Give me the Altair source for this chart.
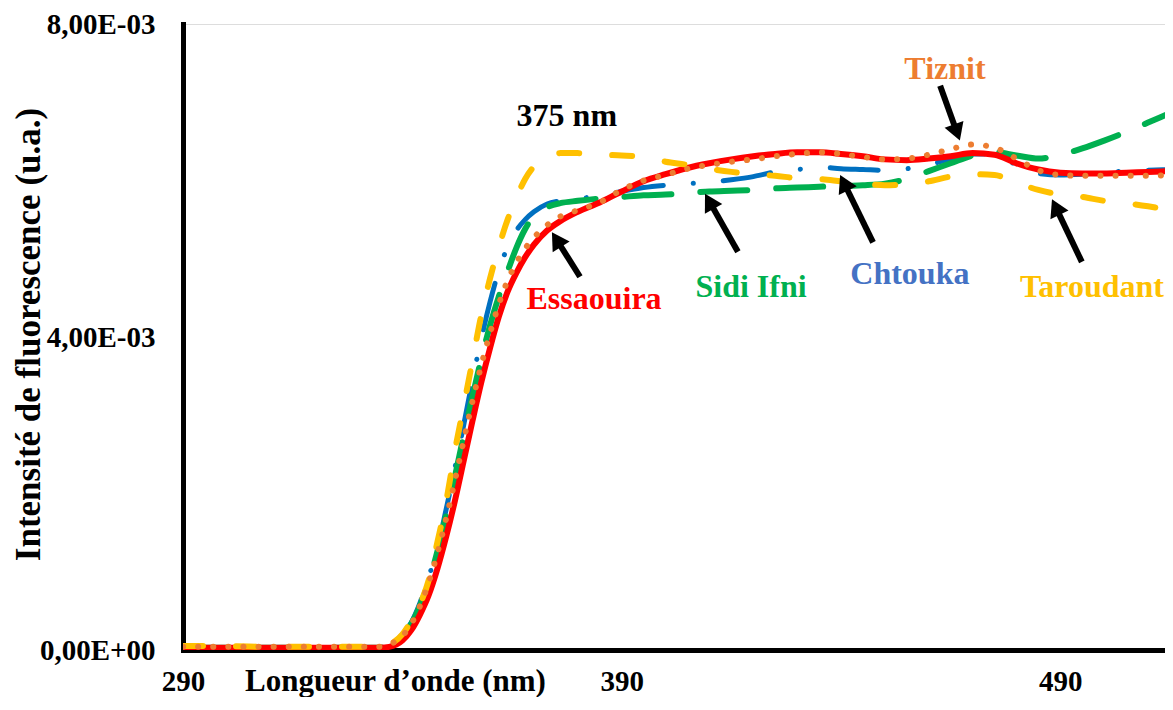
import math
import altair as alt
import pandas as pd

# ---------------- data (intensities in units of 1e-3 u.a.) ----------------
wavelength = [290, 300, 310, 320, 330, 335, 337,
              340, 342, 344, 346, 348, 350, 352, 354, 356, 358, 360, 362, 364, 366, 368, 370,
              373, 376,
              380, 385, 390, 395, 400, 405, 410, 415, 420, 425, 430, 435, 440, 445, 450, 455,
              460, 465, 470, 475, 480, 485, 490, 495, 500, 505, 510, 515]

essaouira = [0.03, 0.03, 0.03, 0.03, 0.03, 0.03, 0.04,
             0.12, 0.25, 0.45, 0.70, 1.04, 1.45, 1.91, 2.42, 2.93, 3.42, 3.86, 4.26, 4.58, 4.82, 5.02, 5.18,
             5.36, 5.48,
             5.60, 5.72, 5.86, 5.99, 6.08, 6.16, 6.22, 6.27, 6.31, 6.34, 6.36, 6.36, 6.34, 6.31, 6.27, 6.26,
             6.28, 6.31, 6.35, 6.33, 6.22, 6.14, 6.10, 6.09, 6.09, 6.10, 6.11, 6.12]

tiznit = [0.04, 0.04, 0.04, 0.04, 0.04, 0.04, 0.07,
          0.18, 0.33, 0.56, 0.86, 1.24, 1.68, 2.17, 2.68, 3.18, 3.64, 4.05, 4.42, 4.72, 4.95, 5.13, 5.27,
          5.43, 5.54,
          5.62, 5.72, 5.88, 6.00, 6.07, 6.15, 6.20, 6.24, 6.27, 6.31, 6.34, 6.36, 6.34, 6.30, 6.27, 6.28,
          6.33, 6.40, 6.46, 6.42, 6.28, 6.13, 6.07, 6.06, 6.06, 6.06, 6.06, 6.07]

sidi_ifni = [0.03, 0.03, 0.03, 0.03, 0.03, 0.03, 0.06,
             0.18, 0.33, 0.56, 0.87, 1.26, 1.72, 2.22, 2.74, 3.24, 3.72, 4.15, 4.52, 4.84, 5.14, 5.38, 5.55,
             5.66, 5.71,
             5.74, 5.77, 5.79, 5.81, 5.82, 5.84, 5.86, 5.87, 5.88, 5.90, 5.91, 5.92, 5.93, 5.94, 5.96, 6.02,
             6.12, 6.22, 6.32, 6.36, 6.32, 6.28, 6.33, 6.41, 6.51, 6.62, 6.74, 6.86]

chtouka = [0.03, 0.03, 0.03, 0.03, 0.03, 0.03, 0.06,
           0.20, 0.35, 0.60, 0.93, 1.30, 1.80, 2.33, 2.88, 3.45, 3.98, 4.45, 4.85, 5.15, 5.36, 5.50, 5.60,
           5.70, 5.74,
           5.77, 5.80, 5.86, 5.91, 5.94, 5.96, 5.98, 6.01, 6.05, 6.11, 6.14, 6.17, 6.15, 6.14, 6.13, 6.15,
           6.20, 6.28, 6.34, 6.33, 6.20, 6.09, 6.07, 6.08, 6.10, 6.12, 6.13, 6.14]

taroudant = [0.05, 0.05, 0.04, 0.04, 0.04, 0.04, 0.07,
             0.20, 0.37, 0.58, 0.89, 1.38, 1.90, 2.55, 3.12, 3.70, 4.28, 4.75, 5.15, 5.50, 5.78, 6.02, 6.18,
             6.30, 6.35,
             6.35, 6.33, 6.32, 6.30, 6.24, 6.20, 6.15, 6.11, 6.08, 6.06, 6.03, 6.02, 5.99, 5.96, 5.94, 5.95,
             5.99, 6.05, 6.08, 6.07, 5.97, 5.88, 5.82, 5.79, 5.74, 5.71, 5.67, 5.62]

UNIT = 1e-3

# labels: text, x (nm), y (1e-3), colour
label_text = ["375 nm", "Tiznit", "Essaouira", "Sidi Ifni", "Chtouka", "Taroudant"]
label_x = [377.5, 463.7, 383.7, 419.5, 455.7, 497.2]
label_y = [6.83, 7.43, 4.48, 4.64, 4.81, 4.64]
label_col = ["#000000", "#ED7D31", "#FF0000", "#00B050", "#4472C4", "#FFC000"]

# arrows: tail -> tip (nm, 1e-3)
arrow_tail_x = [380.5, 416.5, 447.3, 494.9, 462.6]
arrow_tail_y = [4.77, 5.09, 5.21, 4.96, 7.21]
arrow_tip_x = [374.1, 409.0, 439.8, 488.1, 467.1]
arrow_tip_y = [5.34, 5.83, 6.07, 5.76, 6.51]

# ---------------- layout ----------------
SX = 987 / 225.0            # px per nm
W, H = 982, 626
X_DOM = [290, 290 + W / SX]
Y_DOM = [0, 0.008]
SY = H / ((Y_DOM[1] - Y_DOM[0]) / UNIT)   # px per 1e-3
FONT = "Liberation Serif"

x_axis = alt.Axis(values=[290, 390, 490], format="d", grid=False, ticks=False, tickSize=0,
                  domainColor="black", domainWidth=5, domainCap="square",
                  labelFont=FONT, labelFontSize=29, labelFontWeight="bold", labelColor="black",
                  labelPadding=40, labelBaseline="alphabetic", labelFlush=False, labelOverlap=False,
                  title="Longueur d’onde (nm)", titleFont=FONT, titleFontSize=31,
                  titleFontWeight="bold", titleColor="black", titleX=212, titleY=40,
                  titleAlign="center", titleBaseline="alphabetic", titleAngle=0)
y_axis = alt.Axis(values=[0, 0.004, 0.008], grid=False, ticks=False, tickSize=0,
                  domainColor="black", domainWidth=5, domainCap="square",
                  labelExpr="replace(replace(replace(format(datum.value, '.2e'), '.', ','), 'e-', 'E-0'), 'e+', 'E+0')",
                  labelFont=FONT, labelFontSize=29, labelFontWeight="bold", labelColor="black",
                  labelPadding=28, labelOverlap=False, labelFlush=False, labelBaseline="middle",
                  title="Intensité de fluorescence (u.a.)", titleFont=FONT, titleFontSize=35,
                  titleFontWeight="bold", titleColor="black", titleX=-155, titleY=310,
                  titleAlign="center", titleBaseline="middle", titleAngle=270)

xs = alt.Scale(domain=X_DOM, nice=False, zero=False)
ys = alt.Scale(domain=Y_DOM, nice=False, zero=False)


def X(field="nm"):
    return alt.X(f"{field}:Q", scale=xs, axis=x_axis)


def Y(field="val"):
    return alt.Y(f"{field}:Q", scale=ys, axis=y_axis)


# ---------------- series ----------------
series = [
    ("Chtouka", chtouka, "#0070C0", [48, 30, 0.1, 30], 5),
    ("Sidi Ifni", sidi_ifni, "#00B050", [47, 29], 6),
    ("Essaouira", essaouira, "#FF0000", None, 6),
    ("Taroudant", taroudant, "#FFC000", [20, 33], 6),
    ("Tiznit", tiznit, "#ED7D31", [0.1, 15], 6),
]

layers = []
for name, vals, col, dash, w in series:
    df = pd.DataFrame({"nm": wavelength, "val": [v * UNIT for v in vals], "serie": name})
    kw = dict(color=col, strokeWidth=w, interpolate="monotone", strokeCap="round",
              strokeJoin="round", clip=True)
    if dash is not None:
        kw["strokeDash"] = dash
    layers.append(alt.Chart(df).mark_line(**kw).encode(x=X(), y=Y(), detail="serie:N"))

# ---------------- arrows ----------------
HEAD = 400
head_r = math.sqrt(HEAD) / 2 * math.sqrt(3) / 2
rows = []
for tx, ty, hx, hy in zip(arrow_tail_x, arrow_tail_y, arrow_tip_x, arrow_tip_y):
    dx = (hx - tx) * SX
    dy = -(hy - ty) * SY
    L = math.hypot(dx, dy)
    ux, uy = dx / L, dy / L
    cx = hx - head_r * ux / SX
    cy = hy + head_r * uy / SY
    ang = math.degrees(math.atan2(ux, -uy)) % 360
    rows.append({"nm": tx, "val": ty * UNIT, "nm2": cx, "val2": cy * UNIT,
                 "hx": cx, "hy": cy * UNIT, "ang": ang})
arrows = pd.DataFrame(rows)

shafts = alt.Chart(arrows).mark_rule(color="black", strokeWidth=6).encode(
    x=X(), y=Y(), x2="nm2:Q", y2="val2:Q")
heads = alt.Chart(arrows).mark_point(shape="triangle-up", filled=True, size=HEAD, color="black",
                                     opacity=1).encode(
    x=X("hx"), y=Y("hy"), angle=alt.Angle("ang:Q", scale=None))

labels = pd.DataFrame({"nm": label_x, "val": [v * UNIT for v in label_y],
                       "txt": label_text, "col": label_col})
texts = alt.Chart(labels).mark_text(font=FONT, fontWeight="bold", fontSize=32, align="center",
                                    baseline="middle").encode(
    x=X(), y=Y(), text="txt:N", color=alt.Color("col:N", scale=None))

chart = alt.layer(*layers, shafts, heads, texts).properties(
    width=W, height=H, autosize="none",
    padding={"left": 175, "top": 16, "right": 0, "bottom": 47},
).configure_view(stroke=None).configure(background="white")

chart.save("out.html", embed_options={"renderer": "svg", "actions": False})
